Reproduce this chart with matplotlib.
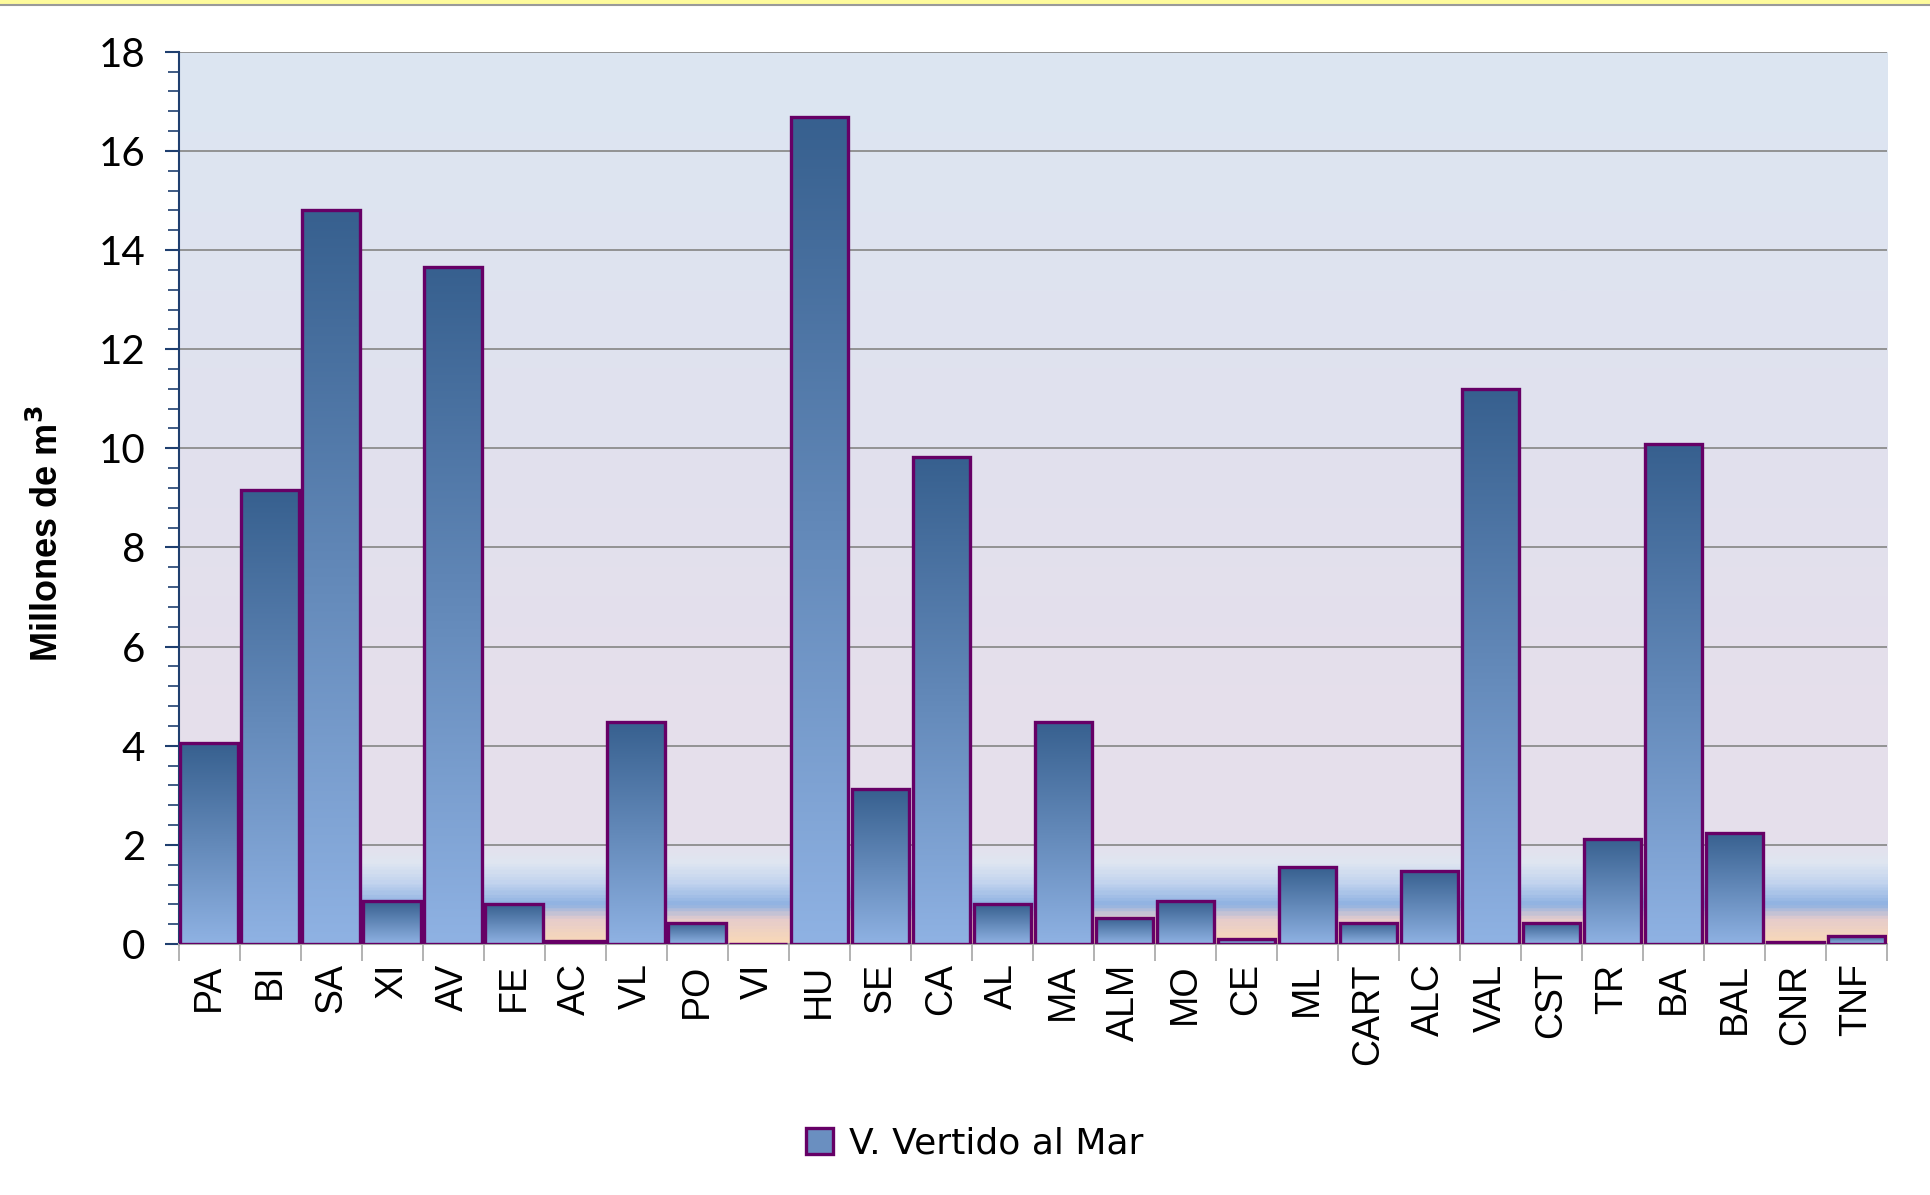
import numpy as np
import matplotlib
matplotlib.use("Agg")
import matplotlib.pyplot as plt
from matplotlib.colors import LinearSegmentedColormap
from matplotlib.patches import Patch, Rectangle
from matplotlib.ticker import MultipleLocator

# puertos y volumen vertido al mar (millones de m3)
puertos = ["PA", "BI", "SA", "XI", "AV", "FE", "AC", "VL", "PO", "VI",
           "HU", "SE", "CA", "AL", "MA", "ALM", "MO", "CE", "ML", "CART",
           "ALC", "VAL", "CST", "TR", "BA", "BAL", "CNR", "TNF"]
vertido = [4.05, 9.15, 14.8, 0.86, 13.65, 0.80, 0.06, 4.48, 0.43, 0.0,
           16.68, 3.12, 9.82, 0.80, 4.48, 0.53, 0.86, 0.11, 1.55, 0.43,
           1.48, 11.2, 0.43, 2.12, 10.08, 2.24, 0.05, 0.17]
serie = "V. Vertido al Mar"

fig = plt.figure(figsize=(19.3, 11.95), dpi=100)
ax = fig.add_axes([0.0925, 0.21, 0.8852, 0.7467])

n = len(puertos)
x = np.arange(n)

# fondo del area de trazado
fondo = LinearSegmentedColormap.from_list("fondo", [
    (0.0, "#f8d9b8"), (0.45 / 18, "#e6cccc"), (0.75 / 18, "#8fb2e2"),
    (1.2 / 18, "#c3d4ee"), (1.6 / 18, "#dfe6f1"), (2.0 / 18, "#e5e0ec"),
    (4.0 / 18, "#e6dfeb"), (10.0 / 18, "#e1e1ee"), (1.0, "#dce6f2")])
grad = np.linspace(0, 1, 600).reshape(-1, 1)
ax.imshow(grad, cmap=fondo, origin="lower", aspect="auto",
          extent=[-0.5, n - 0.5, 0, 18], zorder=0)

ax.yaxis.grid(True, color="#8c8c8c", linewidth=1.3, zorder=1)
ax.set_axisbelow(True)

# barras con degradado
barra = LinearSegmentedColormap.from_list("barra", ["#8fb2e3", "#37608f"])
bars = ax.bar(x, vertido, width=0.94, facecolor="none",
              edgecolor="#660066", linewidth=2.4, zorder=3)
for b, v in zip(bars, vertido):
    if v <= 0:
        continue
    x0 = b.get_x()
    im = ax.imshow(grad, cmap=barra, origin="lower", aspect="auto",
                   extent=[x0, x0 + b.get_width(), 0, v], zorder=2)
    im.set_clip_path(b)
ax.set_xlim(-0.5, n - 0.5)
ax.set_ylim(0, 18)

# ejes
ax.yaxis.set_major_locator(MultipleLocator(2))
ax.yaxis.set_minor_locator(MultipleLocator(0.4))
ax.tick_params(axis="y", which="major", length=10, width=1.5,
               color="#1f3f6f", labelsize=29, pad=14)
ax.tick_params(axis="y", which="minor", length=8, width=1.2, color="#1f3f6f")
for lab in ax.get_yticklabels():
    lab.set_fontfamily(["Lato", "DejaVu Sans"])

ax.set_xticks(np.arange(n + 1) - 0.5, minor=True)
ax.set_xticks(x)
ax.set_xticklabels(puertos, rotation=90, fontsize=27,
                   fontfamily="Liberation Sans", va="top")
ax.tick_params(axis="x", which="major", length=0, pad=14)
ax.tick_params(axis="x", which="minor", length=12, width=1.2, color="#a6a6a6")

for s in ["top", "right"]:
    ax.spines[s].set_visible(False)
ax.spines["left"].set_color("#1f3f6f")
ax.spines["left"].set_linewidth(1.5)
ax.spines["bottom"].set_color("#a6a6a6")
ax.spines["bottom"].set_linewidth(1.5)

ax.set_ylabel("Millones de m$^{\\mathbf{3}}$", fontsize=26, fontweight="bold",
              fontfamily="Liberation Sans")
ax.yaxis.set_label_coords(-0.066, 0.46)

# leyenda
handle = Patch(facecolor="#6a8fc0", edgecolor="#660066", linewidth=2.4)
fig.legend([handle], [serie], loc="center", bbox_to_anchor=(0.505, 0.043),
           frameon=False, prop={"family": "DejaVu Sans", "size": 26},
           handlelength=0.75, handleheight=0.75, handletextpad=0.45)

# franja amarilla superior
fig.patches.append(Rectangle((0, 1 - 5 / 1195), 1, 5 / 1195, transform=fig.transFigure,
                             facecolor="#fefb9c", edgecolor="none"))
fig.lines.append(plt.Line2D([0, 1], [1 - 5 / 1195, 1 - 5 / 1195], transform=fig.transFigure,
                            color="#9a9a9a", linewidth=1.5))

fig.savefig("out.png", dpi=100, facecolor="white")
